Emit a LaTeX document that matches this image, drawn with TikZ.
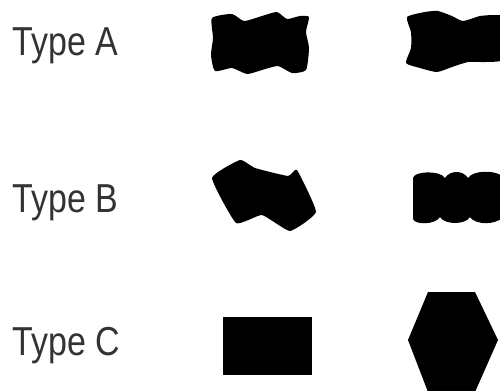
\documentclass[tikz,border=0pt]{standalone}
\usepackage{fontspec}
\setmainfont{Liberation Sans}[FakeStretch=0.84]
\tikzset{
	typelabel/.style={anchor=base west, inner sep=0pt, text=black!80, font=\fontsize{23}{26}\selectfont},
	blob/.style={fill=black, draw=none}
}
\begin{document}
\begin{tikzpicture}[x=0.02cm, y=-0.02cm]
		\useasboundingbox (0,0) rectangle (500,390);
		\clip (0,0) rectangle (500,390);
		\node[typelabel] (ta) at (12,55) {Type A};
		\node[typelabel] (tb) at (12,212) {Type B};
		\node[typelabel] (tc) at (12,355) {Type C};
		\fill[blob] plot[smooth cycle, tension=0.35]
		coordinates {(212,18) (232,14) (244,21) (262,16) (277,12) (287,19)
				(300,16) (309,17) (306,32) (309,48) (306,70) (292,73) (278,66)
				(262,70) (247,74) (232,68) (215,71) (211,55) (213,38)};
		\fill[blob] plot[smooth cycle, tension=0.35]
		coordinates {(407,17) (425,12) (438,11) (452,16) (463,21) (480,16)
				(495,15) (503,17) (505,40) (503,60) (485,62) (468,62) (452,67)
				(437,72) (420,68) (406,63) (411,48) (411,32)};
		\fill[blob] plot[smooth cycle, tension=0.25]
		coordinates {(212,178) (240,160) (255,168) (288,176) (297,170)
				(316,212) (290,231) (262,215) (236,223)};
		\fill[blob] (413,219) -- (413,178)
		.. controls (414,171) and (440,170) .. (445,178)
		.. controls (450,170) and (463,170) .. (468,178)
		.. controls (473,170) and (495,170) .. (502,176) -- (502,218)
		.. controls (495,225) and (475,225) .. (470,217)
		.. controls (465,225) and (445,225) .. (440,217)
		.. controls (435,225) and (415,225) .. (413,219) -- cycle;
		\fill[blob] (223,317) rectangle (312,375);
		\fill[blob] (428,292) -- (475,292) -- (498,340) -- (475,392)
		-- (428,392) -- (408,340) -- cycle;
	\end{tikzpicture}
\end{document}
